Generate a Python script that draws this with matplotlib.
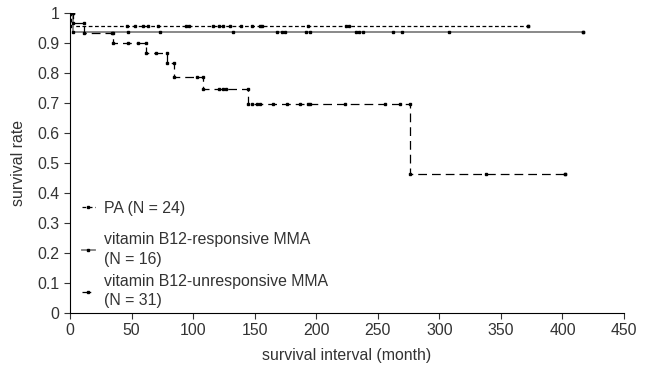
import numpy as np
import matplotlib
matplotlib.use('Agg')
import matplotlib.pyplot as plt

plt.rcParams['font.family'] = ['Liberation Sans', 'DejaVu Sans']

# Kaplan-Meier steps: event times (months) and survival after each step
pa_t = [0, 0.5, 372]
pa_s = [1.0, 0.958, 0.958]
pa_cens = [46, 53, 59, 63, 71.5, 94, 97, 116, 121, 124, 130, 139, 148, 154, 156,
           193, 224, 227]

resp_t = [0, 2.5, 417]
resp_s = [1.0, 0.9375, 0.9375]
resp_cens = [47, 73, 132, 168, 172, 175, 192, 195, 232, 235, 238, 262, 270, 308]

unresp_t = [0, 2.5, 11, 35, 61.5, 79, 84.5, 108, 144.5, 276, 402]
unresp_s = [1.0, 0.968, 0.935, 0.90, 0.866, 0.832, 0.787, 0.746, 0.696, 0.464, 0.464]
unresp_cens = [34, 47, 55, 70, 103, 121, 124, 127, 147.5, 151.5, 154, 165, 176, 187,
               193, 195, 223, 256, 268, 338]

labels = ['PA (N = 24)',
          'vitamin B12-responsive MMA\n(N = 16)',
          'vitamin B12-unresponsive MMA\n(N = 31)']


def step_path(t, s):
    xs, ys = [t[0]], [s[0]]
    for i in range(1, len(t)):
        xs += [t[i], t[i]]
        ys += [s[i - 1], s[i]]
    return xs, ys


def value_at(t, s, x):
    return s[np.searchsorted(t, x, side='right') - 1]


fig = plt.figure(figsize=(6.55, 3.73), dpi=100)
ax = fig.add_axes([70 / 655, 1 - 313 / 373, 554 / 655, 300 / 373])

series = [(pa_t, pa_s, pa_cens, 'k', (0, (3, 2)), 0.9),
          (resp_t, resp_s, resp_cens, '#808080', '-', 1.3),
          (unresp_t, unresp_s, unresp_cens, 'k', (0, (7, 4)), 0.9)]

handles = []
for (t, s, cens, col, ls, lw), lab in zip(series, labels):
    xs, ys = step_path(t, s)
    h, = ax.plot(xs, ys, color=col, ls=ls, lw=lw, marker='s', ms=1.8,
                 mfc='k', mec='k', label=lab)
    handles.append(h)
    cy = [value_at(t, s, c) for c in cens]
    ax.plot(cens, cy, ls='none', marker='s', ms=1.8, color='k')

ax.set_xlim(0, 450)
ax.set_ylim(0, 1)
ax.set_xticks(np.arange(0, 451, 50))
ax.set_yticks(np.arange(0, 1.01, 0.1))
ax.set_yticklabels(['0', '0.1', '0.2', '0.3', '0.4', '0.5', '0.6', '0.7', '0.8',
                    '0.9', '1'])
ax.spines['top'].set_visible(False)
ax.spines['right'].set_visible(False)
ax.tick_params(labelsize=11.4, direction='out', length=4, width=0.8, color='#333333')
ax.set_xlabel('survival interval (month)', fontsize=11.4, labelpad=7, color='#333333')
ax.set_ylabel('survival rate', fontsize=11.4, labelpad=8, color='#333333')
for lbl in ax.get_xticklabels() + ax.get_yticklabels():
    lbl.set_color('#333333')

leg_kw = dict(loc='upper left', frameon=False, fontsize=11.4, handlelength=0.8,
              handletextpad=0.6, labelspacing=0.45, numpoints=1, borderaxespad=0)
leg1 = ax.legend(handles[:1], labels[:1], bbox_to_anchor=(0.01, 0.395), **leg_kw)
ax.add_artist(leg1)
leg2 = ax.legend(handles[1:], labels[1:], bbox_to_anchor=(0.01, 0.292), **leg_kw)
for leg in (leg1, leg2):
    for txt in leg.get_texts():
        txt.set_color('#333333')
        txt.set_linespacing(1.4)

fig.savefig('out.png', dpi=100)
